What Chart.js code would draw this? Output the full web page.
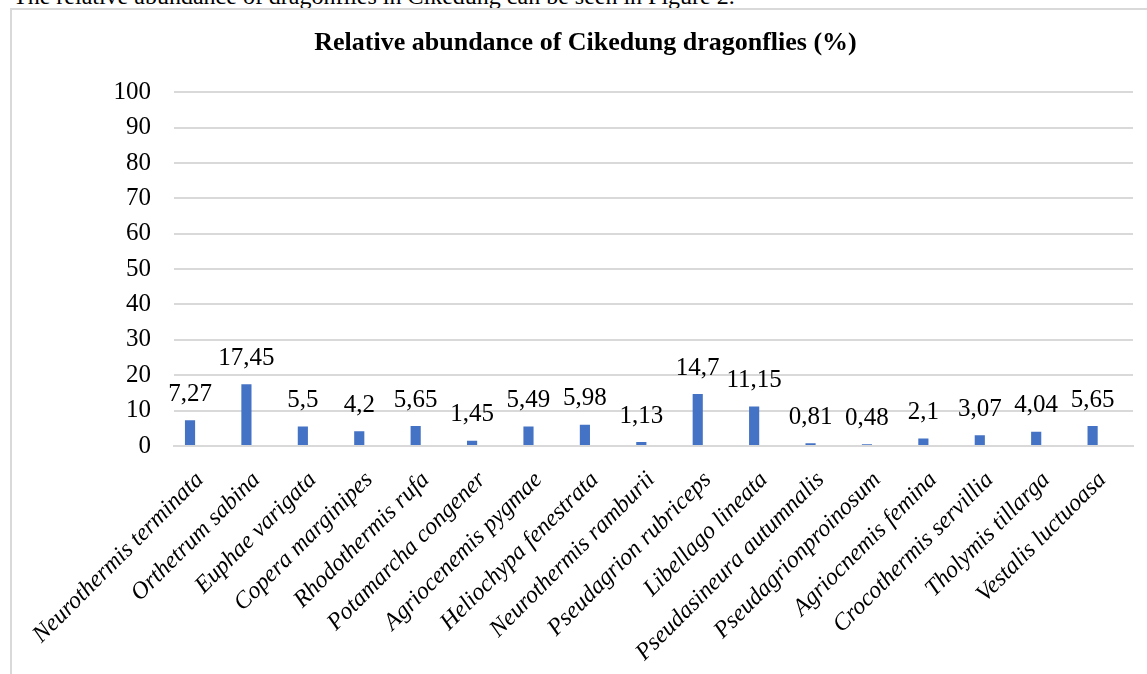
<!DOCTYPE html>
<html>
<head>
<meta charset="utf-8">
<script src="https://cdn.jsdelivr.net/npm/chart.js@4.4.1/dist/chart.umd.min.js"></script>
<style>
  body { margin: 0; background: #fff; overflow: hidden; width: 1147px; height: 674px; position: relative; }
  #intro { position: absolute; left: 13px; top: -16px; font: 24px "Liberation Serif", "Times New Roman", serif; line-height: 24px; color: #000; white-space: nowrap; }
  #box { position: absolute; left: 10px; top: 8px; width: 1160px; height: 700px; border: 2px solid #d9d9d9; box-sizing: border-box; }
  #wrap { position: absolute; left: 12px; top: 11px; width: 1135px; height: 663px; }
</style>
</head>
<body>
<div id="intro">The relative abundance of dragonflies in Cikedung can be seen in Figure 2.</div>
<div id="box"></div>
<div id="wrap"><canvas id="chart"></canvas></div>
<script>
const species = [
  'Neurothermis terminata', 'Orthetrum sabina', 'Euphae varigata', 'Copera marginipes',
  'Rhodothermis rufa', 'Potamarcha congener', 'Agriocenemis pygmae', 'Heliochypa fenestrata',
  'Neurothermis ramburii', 'Pseudagrion rubriceps', 'Libellago lineata', 'Pseudasineura autumnalis',
  'Pseudagrionproinosum', 'Agriocnemis femina', 'Crocothermis servillia', 'Tholymis tillarga',
  'Vestalis luctuoasa'
];
const abundance = [7.27, 17.45, 5.5, 4.2, 5.65, 1.45, 5.49, 5.98, 1.13, 14.7, 11.15, 0.81, 0.48, 2.1, 3.07, 4.04, 5.65];
const yTicks = [0, 10, 20, 30, 40, 50, 60, 70, 80, 90, 100];

const serif = '"Liberation Serif", "Times New Roman", serif';

// valeurs au-dessus des barres, virgule décimale
const barLabels = {
  id: 'barLabels',
  afterDatasetsDraw(chart) {
    const ctx = chart.ctx;
    const meta = chart.getDatasetMeta(0);
    ctx.save();
    ctx.font = '25px ' + serif;
    ctx.fillStyle = '#000';
    ctx.textAlign = 'center';
    ctx.textBaseline = 'middle';
    meta.data.forEach((bar, i) => {
      const txt = String(abundance[i]).replace('.', ',');
      ctx.fillText(txt, bar.x, bar.y - 26);
    });
    ctx.restore();
  }
};

// les barres sont un peu décalées à gauche du quadrillage (comme dans Excel ici)
const points = abundance.map((v, i) => ({ x: i, y: v }));

const ctx = document.getElementById('chart').getContext('2d');
new Chart(ctx, {
  type: 'bar',
  data: {
    datasets: [{
      data: points,
      backgroundColor: '#4472C4',
      barPercentage: 0.18,
      categoryPercentage: 1
    }]
  },
  options: {
    responsive: true,
    maintainAspectRatio: false,
    animation: false,
    layout: { padding: { left: 26, right: 14, top: 0, bottom: 0 } },
    plugins: {
      legend: { display: false },
      tooltip: { enabled: false },
      title: {
        display: true,
        text: 'Relative abundance of Cikedung dragonflies (%)',
        color: '#000',
        font: { family: serif, size: 26, weight: 'bold' },
        padding: { top: 17, bottom: 33 }
      }
    },
    scales: {
      x: {
        type: 'linear',
        offset: false,
        min: -0.284,
        max: 16.716,
        afterBuildTicks(scale) { scale.ticks = species.map((s, i) => ({ value: i })); },
        grid: { display: false, drawTicks: false },
        border: { display: true, color: '#d9d9d9', width: 2 },
        ticks: {
          color: '#000',
          font: { family: serif, size: 24, style: 'italic' },
          minRotation: 45,
          maxRotation: 45,
          autoSkip: false,
          padding: 20,
          labelOffset: 10,
          callback: (v) => species[v]
        },
        afterFit(scale) {
          scale.height = 228;
          scale.paddingLeft = 0;
          scale.paddingRight = 0;
        }
      },
      y: {
        min: 0,
        max: 100,
        afterBuildTicks(scale) { scale.ticks = yTicks.map(v => ({ value: v })); },
        grid: { color: '#d9d9d9', lineWidth: 2, drawTicks: false },
        border: { display: false },
        ticks: {
          color: '#000',
          font: { family: serif, size: 25 },
          padding: 23
        },
        afterFit(scale) { scale.width = 136; }
      }
    }
  },
  plugins: [barLabels]
});
</script>
</body>
</html>
